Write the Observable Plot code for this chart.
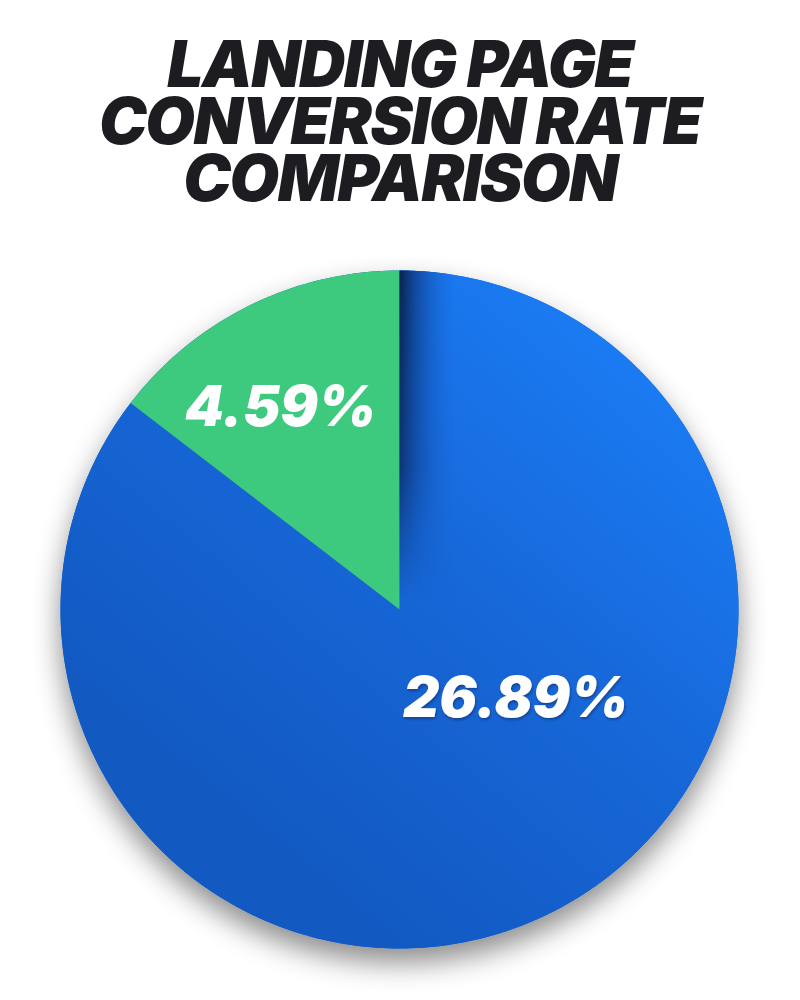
<!DOCTYPE html>
<html>
<head>
<meta charset="utf-8">
<script src="https://cdn.jsdelivr.net/npm/d3@7"></script>
<script src="https://cdn.jsdelivr.net/npm/@observablehq/plot@0.6"></script>
<style>
  html, body { margin: 0; padding: 0; background: #ffffff; }
  #title {
    height: 240px; box-sizing: border-box; padding-top: 35px;
    text-align: center; color: #1d1d21;
    font-family: Inter, "Liberation Sans", Arial, sans-serif;
    font-weight: 900; font-style: italic; font-size: 64px; line-height: 57px;
    letter-spacing: -1.5px;
  }
  #chart svg { display: block; overflow: visible; }
</style>
</head>
<body>
<div id="title">LANDING PAGE<br>CONVERSION RATE<br>COMPARISON</div>
<div id="chart"></div>
<script>
// ---- data ----
const categories = ["Blue segment", "Green segment"];
const values = [26.89, 4.59];
const valueLabels = ["26.89%", "4.59%"];

// ---- layout (not data) ----
const W = 800, H = 760, CX = 399, CY = 369, R = 339;
const labelPlacement = [{angle: 127.6, r: 0.433}, {angle: 329.4, r: 0.689}];
const sliceColors = ["#1667d6", "#3dca7e"];

const arcs = d3.pie().sort(null).startAngle(0).endAngle(2 * Math.PI)(values);
const slices = arcs.map((a, i) => {
  const n = Math.max(2, Math.ceil((a.endAngle - a.startAngle) / (Math.PI / 360)));
  const pts = [{name: categories[i], x: 0, y: 0}];
  for (let k = 0; k <= n; k++) {
    const t = a.startAngle + (a.endAngle - a.startAngle) * k / n;
    pts.push({name: categories[i], x: Math.sin(t), y: Math.cos(t)});
  }
  pts.push({name: categories[i], x: 0, y: 0});
  return pts;
});
const disk = d3.range(0, 361).map(d => ({x: Math.sin(d * Math.PI / 180), y: Math.cos(d * Math.PI / 180)}));
const labels = categories.map((c, i) => {
  const t = labelPlacement[i].angle * Math.PI / 180, r = labelPlacement[i].r;
  return {name: c, text: valueLabels[i], x: r * Math.sin(t), y: r * Math.cos(t)};
});

const textOpts = {x: "x", y: "y", text: "text", fill: "white", fontSize: 56, fontWeight: 900, fontStyle: "italic", fontFamily: "Inter, sans-serif"};
const marks = [
  Plot.line(disk, {x: "x", y: "y", fill: "#1259c3", stroke: "none"}),          // 0 shadow disk
  Plot.line(slices[0], {x: "x", y: "y", fill: sliceColors[0], stroke: "none"}), // 1 blue
  Plot.line(slices[1], {x: "x", y: "y", fill: sliceColors[1], stroke: "none"}), // 2 green
  Plot.line(slices[0], {x: "x", y: "y", fill: "#081d44", stroke: "none"}),      // 3 shade
  Plot.text(labels.slice(0, 1), textOpts),                                      // 4 big label
  Plot.text(labels.slice(1), textOpts)                                          // 5 small label
];

const svg = Plot.plot({
  width: W, height: H,
  margin: 0,
  x: {domain: [-CX / R, (W - CX) / R], axis: null},
  y: {domain: [-(H - CY) / R, CY / R], axis: null},
  marks: marks
});
document.getElementById("chart").appendChild(svg);

try {
  const s = d3.select(svg);
  const groups = svg.querySelectorAll(":scope > g");
  const defs = s.insert("defs", ":first-child");
  const bg = defs.append("linearGradient").attr("id", "blueGrad").attr("gradientUnits", "userSpaceOnUse")
    .attr("x1", CX + 0.7 * R).attr("y1", CY - 0.85 * R).attr("x2", CX - 0.5 * R).attr("y2", CY + 0.6 * R);
  bg.append("stop").attr("offset", 0).attr("stop-color", "#1b7df5");
  bg.append("stop").attr("offset", 0.5).attr("stop-color", "#1767d8");
  bg.append("stop").attr("offset", 1).attr("stop-color", "#1259c2");

  // horizontal shade, only to the right of the vertical slice edge
  const span = 255, lead = 200;
  const sh = defs.append("linearGradient").attr("id", "shadeH").attr("gradientUnits", "userSpaceOnUse")
    .attr("x1", CX - lead).attr("y1", 0).attr("x2", CX - lead + span).attr("y2", 0);
  sh.append("stop").attr("offset", 0).attr("stop-color", "#081d44").attr("stop-opacity", 0);
  sh.append("stop").attr("offset", (lead - 1) / span).attr("stop-color", "#081d44").attr("stop-opacity", 0);
  sh.append("stop").attr("offset", lead / span).attr("stop-color", "#081d44").attr("stop-opacity", 0.95);
  sh.append("stop").attr("offset", (lead + 18) / span).attr("stop-color", "#0c3275").attr("stop-opacity", 0.6);
  sh.append("stop").attr("offset", 1).attr("stop-color", "#1660d0").attr("stop-opacity", 0);

  const fv = defs.append("linearGradient").attr("id", "fadeV").attr("gradientUnits", "userSpaceOnUse")
    .attr("x1", 0).attr("y1", CY - R).attr("x2", 0).attr("y2", CY - 10);
  fv.append("stop").attr("offset", 0).attr("stop-color", "#fff");
  fv.append("stop").attr("offset", 0.6).attr("stop-color", "#bbb");
  fv.append("stop").attr("offset", 1).attr("stop-color", "#000");
  defs.append("mask").attr("id", "shadeMask").attr("maskUnits", "userSpaceOnUse")
    .attr("x", 0).attr("y", 0).attr("width", W).attr("height", H)
    .append("rect").attr("x", 0).attr("y", 0).attr("width", W).attr("height", H).attr("fill", "url(#fadeV)");

  const f = defs.append("filter").attr("id", "drop").attr("filterUnits", "userSpaceOnUse")
    .attr("x", 0).attr("y", 0).attr("width", W).attr("height", H);
  f.append("feDropShadow").attr("dx", 0).attr("dy", 14).attr("stdDeviation", 14).attr("flood-color", "#000").attr("flood-opacity", 0.45);
  const tf = defs.append("filter").attr("id", "textShadow").attr("filterUnits", "userSpaceOnUse")
    .attr("x", 0).attr("y", 0).attr("width", W).attr("height", H);
  tf.append("feDropShadow").attr("dx", 1).attr("dy", 2).attr("stdDeviation", 1.2).attr("flood-color", "#0a2a60").attr("flood-opacity", 0.55);

  if (groups.length >= 6) {
    d3.select(groups[0]).attr("filter", "url(#drop)");
    d3.select(groups[1]).attr("fill", "url(#blueGrad)").selectAll("path").attr("fill", "url(#blueGrad)");
    d3.select(groups[3]).attr("mask", "url(#shadeMask)").attr("fill", "url(#shadeH)").selectAll("path").attr("fill", "url(#shadeH)");
    d3.select(groups[4]).attr("filter", "url(#textShadow)");
  }
} catch (e) { /* keep the plain chart */ }
</script>
</body>
</html>
